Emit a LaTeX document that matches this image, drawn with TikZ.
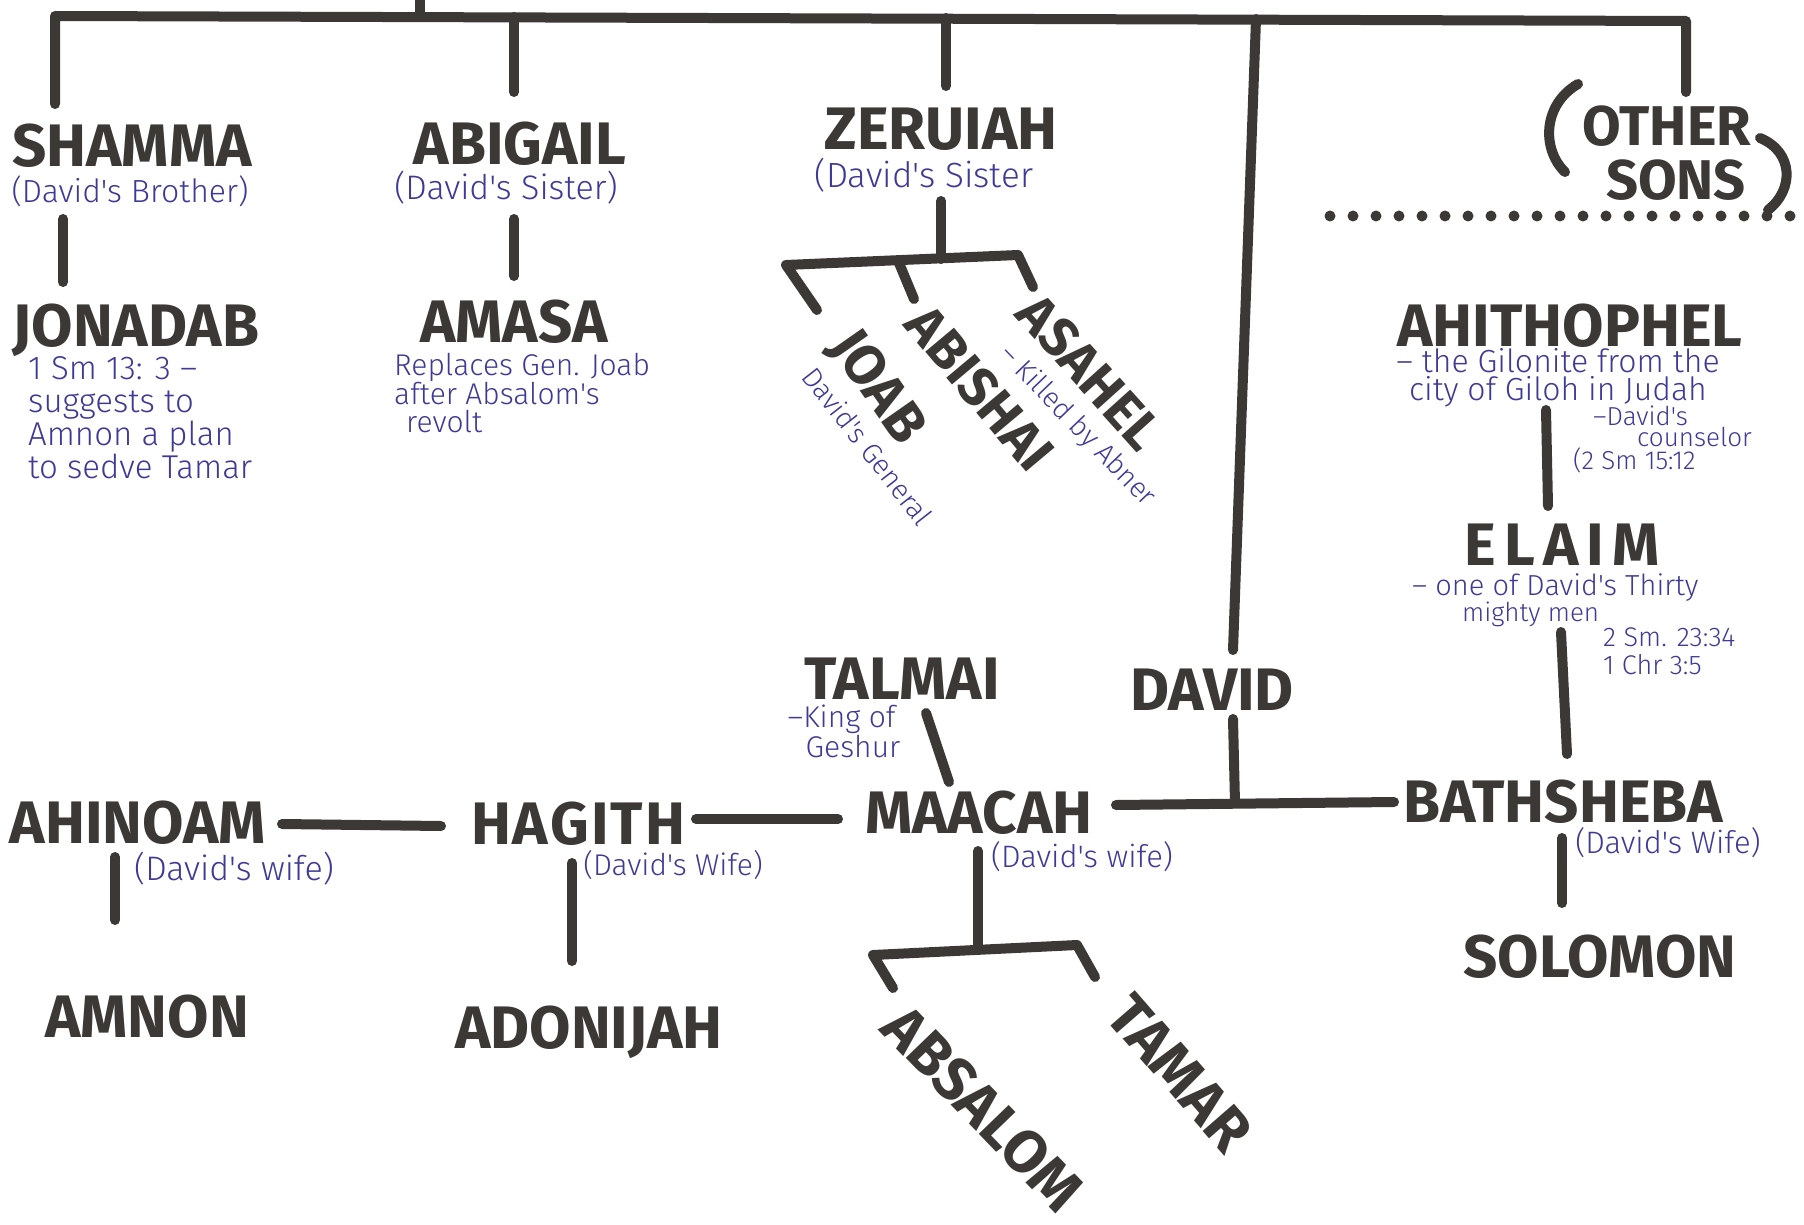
\documentclass[tikz,border=0pt]{standalone}
\usepackage{fontspec}
\newfontfamily\namefont{Fira Sans}
\newfontfamily\notefont{Fira Sans Light}
\definecolor{marker}{RGB}{60,56,54}
\definecolor{ink}{RGB}{62,58,150}
\tikzset{
  person/.style={inner sep=0pt, text=marker, font=\namefont\bfseries\fontsize{60}{60}\selectfont},
  note/.style={inner sep=0pt, text=ink, font=\notefont\fontsize{32}{32}\selectfont},
  branch/.style={draw=marker, line width=10pt, line cap=round, line join=round},
}
\begin{document}
\begin{tikzpicture}[x=1pt,y=-1pt]
        \fill[white] (0,0) rectangle (1804,1225);
        \useasboundingbox (0,0) rectangle (1804,1225);

        % top bar and the children of Jesse
        \coordinate (root) at (420,-10);
        \coordinate (rootbar) at (420,16);
        \coordinate (shammaup) at (55,16);
        \coordinate (shammadown) at (55,104);
        \coordinate (abigailup) at (514,17);
        \coordinate (abigaildown) at (514,92);
        \coordinate (zeruiahup) at (946,18);
        \coordinate (zeruiahdown) at (946,86);
        \coordinate (davidup) at (1256,19);
        \coordinate (davidend) at (1233,650);
        \coordinate (otherup) at (1686,21);
        \coordinate (otherdown) at (1686,92);

        \draw[branch] (root) -- (rootbar);
        \draw[branch] (shammadown) -- (shammaup) -- (otherup) -- (otherdown);
        \draw[branch] (abigailup) -- (abigaildown);
        \draw[branch] (zeruiahup) -- (zeruiahdown);
        \draw[branch] (davidup) -- (davidend);

        \node[person] (shamma) at (132,146) {SHAMMA};
        \node[note] (shammanote) at (130,191) {(David's Brother)};
        \node[person] (abigail) at (520,144) {ABIGAIL};
        \node[note, font=\notefont\fontsize{34}{34}\selectfont] (abigailnote) at (506,188) {(David's Sister)};
        \node[person] (zeruiah) at (941,129) {ZERUIAH};
        \node[note, font=\notefont\fontsize{35}{35}\selectfont] (zeruiahnote) at (924,175) {(David's Sister};

        % other sons
        \node[person, font=\namefont\bfseries\fontsize{56}{56}\selectfont] (other) at (1667,126) {OTHER};
        \node[person, font=\namefont\bfseries\fontsize{56}{56}\selectfont] (sons) at (1676,180) {SONS};
        \draw[branch] (1578,84) .. controls (1542,105) and (1542,150) .. (1565,172);
        \draw[branch] (1760,138) .. controls (1794,152) and (1794,190) .. (1768,210);
        \coordinate (dotsL) at (1330,216);
        \coordinate (dotsR) at (1800,216);
        \draw[draw=marker, line width=11pt, line cap=round, dash pattern=on 0pt off 23pt] (dotsL) -- (dotsR);

        % Shamma's line
        \coordinate (jonadabup) at (63,219);
        \coordinate (jonadabdown) at (63,282);
        \draw[branch] (jonadabup) -- (jonadabdown);
        \node[person] (jonadab) at (136,330) {JONADAB};
        \node[note, align=left, anchor=west, font=\notefont\fontsize{33}{33}\selectfont] (jonadabnote) at (28,418) {1 Sm 13: 3 –\\suggests to\\Amnon a plan\\to sedve Tamar};

        % Abigail's line
        \coordinate (amasaup) at (514,219);
        \coordinate (amasadown) at (514,276);
        \draw[branch] (amasaup) -- (amasadown);
        \node[person] (amasa) at (514,322) {AMASA};
        \node[note, align=left, anchor=west, font=\notefont\fontsize{30}{28}\selectfont] (amasanote) at (394,393) {Replaces Gen. Joab\\after Absalom's\\\hspace*{12pt}revolt};

        % Zeruiah's sons
        \coordinate (zsonsup) at (941,201);
        \coordinate (zsonsbar) at (941,259);
        \coordinate (joabbar) at (786,265);
        \coordinate (joabend) at (817,310);
        \coordinate (abishaibar) at (899,263);
        \coordinate (abishaiend) at (914,299);
        \coordinate (asahelbar) at (1018,255);
        \coordinate (asahelend) at (1033,287);
        \draw[branch] (zsonsup) -- (zsonsbar);
        \draw[branch] (joabend) -- (joabbar) -- (asahelbar) -- (asahelend);
        \draw[branch] (abishaibar) -- (abishaiend);
        \node[person, rotate=-55, font=\namefont\bfseries\fontsize{56}{56}\selectfont] (joab) at (876,388) {JOAB};
        \node[person, rotate=-50, font=\namefont\bfseries\fontsize{54}{54}\selectfont] (abishai) at (980,388) {ABISHAI};
        \node[person, rotate=-48, font=\namefont\bfseries\fontsize{54}{54}\selectfont] (asahel) at (1090,372) {ASAHEL};
        \node[note, rotate=-52, font=\notefont\fontsize{28}{28}\selectfont] (joabnote) at (868,446) {David's General};
        \node[note, rotate=-46, font=\notefont\fontsize{28}{28}\selectfont] (asahelnote) at (1077,426) {– Killed by Abner};

        % Ahithophel and Elaim
        \node[person] (ahithophel) at (1570,326) {AHITHOPHEL};
        \node[note, align=center, font=\notefont\fontsize{32}{28}\selectfont] (ahithnote) at (1558,378) {– the Gilonite from the\\city of Giloh in Judah};
        \node[note, align=left, anchor=north west, font=\notefont\fontsize{26}{21}\selectfont] (counselnote) at (1573,406) {\hspace*{20pt}–David's\\\hspace*{64pt}counselor\\(2 Sm 15:12};
        \coordinate (elaimup) at (1546,410);
        \coordinate (elaimdown) at (1548,506);
        \draw[branch] (elaimup) -- (elaimdown);
        \node[person] (elaim) at (1562,545) {E\kern8pt L\kern8pt A\kern8pt I\kern8pt M};
        \node[note, align=left, anchor=west, font=\notefont\fontsize{29}{26}\selectfont] (elaimnote) at (1412,600) {– one of David's Thirty\\\hspace*{50pt}{\fontsize{26}{26}\selectfont mighty men}};
        \node[note, align=left, anchor=west, font=\notefont\fontsize{27}{28}\selectfont] (elaimref) at (1603,651) {2 Sm. 23:34\\1 Chr 3:5};
        \coordinate (bathup) at (1561,632);
        \coordinate (bathtop) at (1567,754);
        \draw[branch] (bathup) -- (bathtop);

        % David and his wives
        \node[person] (david) at (1212,690) {DAVID};
        \coordinate (davidlow) at (1233,719);
        \coordinate (davidbar) at (1235,803);
        \draw[branch] (davidlow) -- (davidbar);

        \node[person] (talmai) at (902,679) {TALMAI};
        \node[note, align=left, font=\notefont\fontsize{30}{30}\selectfont] (talmainote) at (844,731) {–King of\\\hspace*{18pt}Geshur};
        \coordinate (talmaidown) at (926,713);
        \coordinate (maacahup) at (949,782);
        \draw[branch] (talmaidown) -- (maacahup);

        \node[person] (ahinoam) at (138,823) {AHINOAM};
        \node[person] (hagith) at (578,824) {H\kern2pt A\kern2pt G\kern2pt I\kern2pt T\kern2pt H};
        \node[person] (maacah) at (979,813) {MAACAH};
        \node[person] (bathsheba) at (1563,802) {BATHSHEBA};
        \node[note, font=\notefont\fontsize{34}{34}\selectfont] (ahinoamnote) at (234,869) {(David's wife)};
        \node[note, font=\notefont\fontsize{30}{30}\selectfont] (hagithnote) at (673,865) {(David's Wife)};
        \node[note, font=\notefont\fontsize{31}{31}\selectfont] (maacahnote) at (1082,857) {(David's wife)};
        \node[note, font=\notefont\fontsize{31}{31}\selectfont] (bathnote) at (1668,843) {(David's Wife)};

        \coordinate (w1) at (282,824);
        \coordinate (w2) at (441,826);
        \coordinate (w3) at (696,819);
        \coordinate (w4) at (838,819);
        \coordinate (w5) at (1116,805);
        \coordinate (w6) at (1394,802);
        \draw[branch] (w1) -- (w2);
        \draw[branch] (w3) -- (w4);
        \draw[branch] (w5) -- (w6);

        % the sons
        \coordinate (amnonup) at (115,857);
        \coordinate (amnondown) at (115,920);
        \draw[branch] (amnonup) -- (amnondown);
        \node[person] (amnon) at (147,1017) {AMNON};

        \coordinate (adonijahup) at (572,863);
        \coordinate (adonijahdown) at (572,961);
        \draw[branch] (adonijahup) -- (adonijahdown);
        \node[person] (adonijah) at (589,1032) {ADONIJAH};

        \coordinate (mkidsup) at (978,851);
        \coordinate (mkidsbar) at (978,950);
        \coordinate (absalombar) at (873,955);
        \coordinate (absalomend) at (893,988);
        \coordinate (tamarbar) at (1077,945);
        \coordinate (tamarend) at (1095,977);
        \draw[branch] (mkidsup) -- (mkidsbar);
        \draw[branch] (absalomend) -- (absalombar) -- (tamarbar) -- (tamarend);
        \node[person, rotate=-46] (absalom) at (983,1108) {ABSALOM};
        \node[person, rotate=-49] (tamar) at (1180,1073) {TAMAR};

        \coordinate (solomonup) at (1562,838);
        \coordinate (solomondown) at (1562,903);
        \draw[branch] (solomonup) -- (solomondown);
        \node[person] (solomon) at (1600,957) {SOLOMON};
\end{tikzpicture}
\end{document}
